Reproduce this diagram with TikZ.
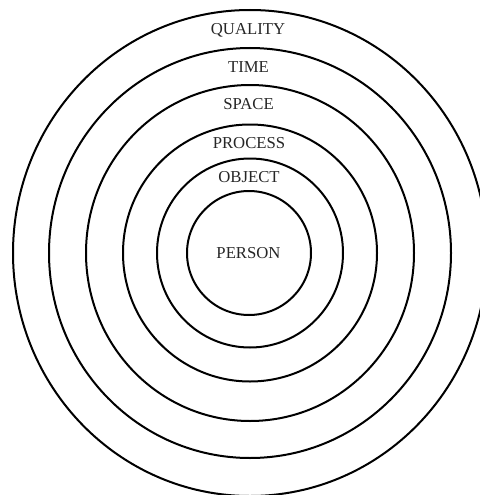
\documentclass[tikz,border=0pt]{standalone}
\usepackage{fontspec}
\setmainfont{Liberation Serif}
\begin{document}
\begin{tikzpicture}[x=1pt,y=-1pt,
  ring/.style={draw=black,line width=2pt},
  lbl/.style={inner sep=0pt,font=\fontsize{16.7}{18}\selectfont,text=black!85}]
\useasboundingbox (0,0) rectangle (479,495);
\coordinate (c) at (250,253);
\draw[ring] (c) ellipse [x radius=237, y radius=243];
\draw[ring] (c) ellipse [x radius=201, y radius=205];
\draw[ring] (c) ellipse [x radius=164, y radius=168];
\draw[ring] (c) ellipse [x radius=127, y radius=128.5];
\draw[ring] (c) ellipse [x radius=93, y radius=94.5];
\draw[ring] (249,253) ellipse [x radius=62, y radius=62];
\node[lbl] (quality) at (248,30) {QUALITY};
\node[lbl] (time) at (248.5,67.5) {TIME};
\node[lbl] (space) at (248.5,104) {SPACE};
\node[lbl] (process) at (249,143) {PROCESS};
\node[lbl] (object) at (249,176.7) {OBJECT};
\node[lbl] (person) at (248.5,253.3) {PERSON};
\end{tikzpicture}
\end{document}
